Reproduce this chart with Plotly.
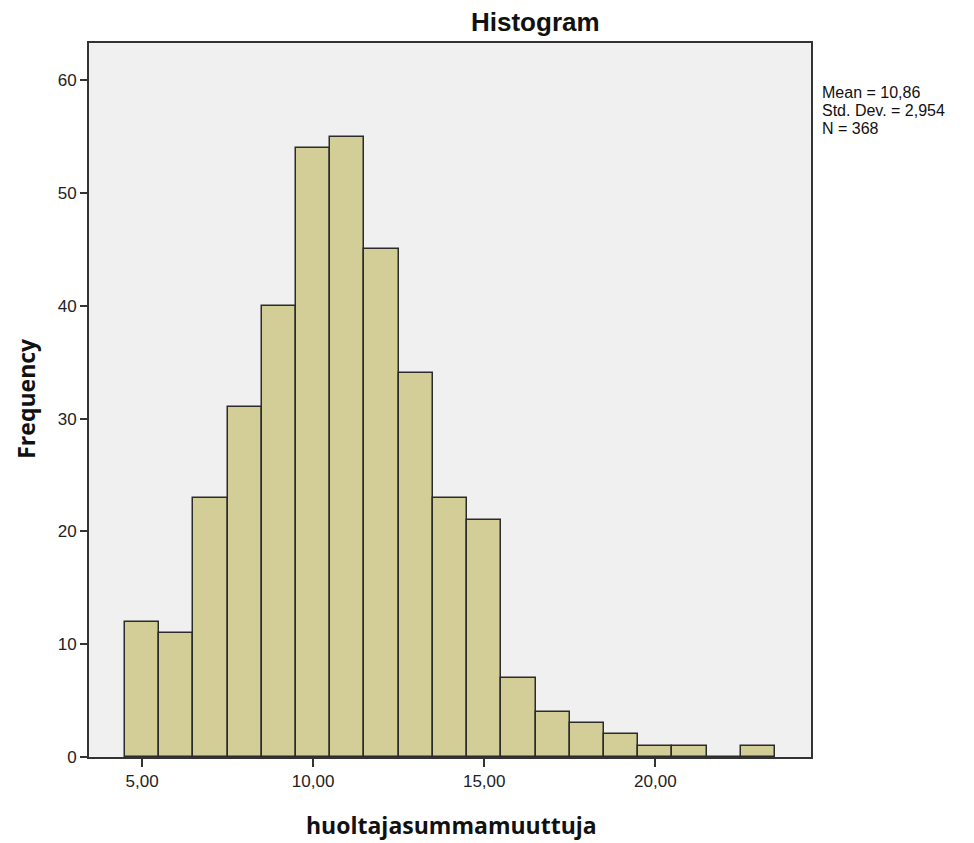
import plotly.graph_objects as go

# Data (bin centers, counts)
bin_centers = [5, 6, 7, 8, 9, 10, 11, 12, 13, 14, 15, 16, 17, 18, 19, 20, 21, 22, 23]
frequencies = [12, 11, 23, 31, 40, 54, 55, 45, 34, 23, 21, 7, 4, 3, 2, 1, 1, 0, 1]
x_tick_values = [5, 10, 15, 20]
x_tick_labels = ["5,00", "10,00", "15,00", "20,00"]
y_tick_values = [0, 10, 20, 30, 40, 50, 60]
stats_lines = ["Mean = 10,86", "Std. Dev. = 2,954", "N = 368"]

# page has an 8px body margin, so figure is 8px smaller and shifted
OFF = 8
W, H = 974 - OFF, 843 - OFF
L, T = 89 - OFF, 43 - OFF
PR, PB = 811 - OFF, 757.5 - OFF
R, B = W - PR, H - PB
PW, PH = PR - L, PB - T


def px(xp):
    return (xp - OFF - L) / PW


def py(yp):
    return 1 - (yp - OFF - T) / PH


fig = go.Figure()
fig.add_trace(go.Bar(
    x=bin_centers, y=frequencies, width=1,
    marker=dict(color="#d3ce97", line=dict(color="#2b2b2b", width=1.5)),
    hoverinfo="x+y", showlegend=False,
))

font_family = "Liberation Sans, Arial, sans-serif"
title_family = "Open Sans, Liberation Sans, sans-serif"
fig.update_layout(
    width=W, height=H,
    margin=dict(l=L, r=R, t=T, b=B),
    paper_bgcolor="white", plot_bgcolor="#f0f0f0",
    font=dict(family=font_family, size=18, color="#222"),
    bargap=0,
)
fig.update_xaxes(
    range=[3.45, 24.55], tickvals=x_tick_values, ticktext=x_tick_labels,
    ticks="outside", ticklen=8, tickwidth=2, tickcolor="#333",
    showline=True, linecolor="#333", linewidth=2, mirror=True,
    showgrid=False, zeroline=False,
    tickfont=dict(size=17, color="#222"),
)
fig.update_yaxes(
    range=[0, 63.3], tickvals=y_tick_values,
    ticks="outside", ticklen=7, tickwidth=2, tickcolor="#333",
    showline=True, linecolor="#333", linewidth=2, mirror=True,
    showgrid=False, zeroline=False,
    tickfont=dict(size=17, color="#222"),
)

# Chart title
fig.add_annotation(xref="paper", yref="paper", x=px(535.5), y=py(22),
                   xanchor="center", yanchor="middle", showarrow=False,
                   text="<b>Histogram</b>",
                   font=dict(family=font_family, size=26, color="#111"))
# X axis title
fig.add_annotation(xref="paper", yref="paper", x=px(451), y=py(826),
                   xanchor="center", yanchor="middle", showarrow=False,
                   text="<b>huoltajasummamuuttuja</b>",
                   font=dict(family=title_family, size=23, color="#111"))
# Y axis title
fig.add_annotation(xref="paper", yref="paper", x=px(26), y=py(399),
                   xanchor="center", yanchor="middle", showarrow=False,
                   textangle=-90, text="<b>Frequency</b>",
                   font=dict(family=title_family, size=23, color="#111"))

# Statistics box text
for i, line in enumerate(stats_lines):
    fig.add_annotation(
        xref="paper", yref="paper", x=px(821), y=py(93 + 18 * i),
        xanchor="left", yanchor="middle", align="left",
        text=line, showarrow=False, borderpad=0,
        font=dict(family=font_family, size=16, color="#111"),
    )

fig.write_html("out.html")
